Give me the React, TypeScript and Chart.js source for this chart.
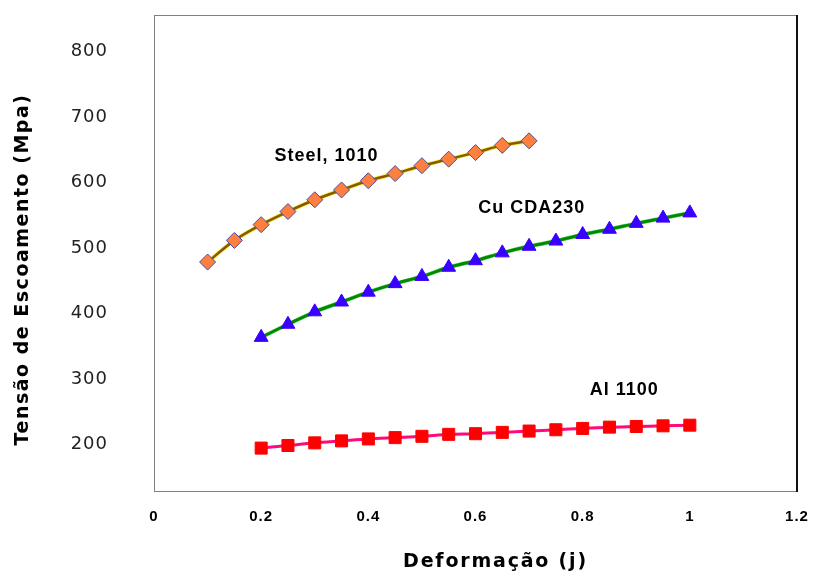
import React, { useEffect, useRef } from "react";
import { Chart, registerables } from "chart.js";

Chart.register(...registerables);

// ---- data ----
const STEEL_X = [0.1, 0.15, 0.2, 0.25, 0.3, 0.35, 0.4, 0.45, 0.5, 0.55, 0.6, 0.65, 0.7];
const STEEL_Y = [479, 512, 536, 556, 574, 589, 603, 614, 626, 636, 646, 657, 664];

const CU_X = [0.2, 0.25, 0.3, 0.35, 0.4, 0.45, 0.5, 0.55, 0.6, 0.65, 0.7, 0.75, 0.8, 0.85, 0.9, 0.95, 1.0];
const CU_Y = [364, 384, 403, 418, 433, 446, 457, 471, 481, 493, 503, 511, 521, 529, 538, 546, 554];

const AL_X = [0.2, 0.25, 0.3, 0.35, 0.4, 0.45, 0.5, 0.55, 0.6, 0.65, 0.7, 0.75, 0.8, 0.85, 0.9, 0.95, 1.0];
const AL_Y = [195, 199, 203, 206, 209, 211, 213, 216, 217, 219, 221, 223, 225, 227, 228, 229, 230];

const X_TICKS = [0, 0.2, 0.4, 0.6, 0.8, 1, 1.2];
const Y_TICKS = [200, 300, 400, 500, 600, 700, 800];

const SERIES_LABELS = ["Steel, 1010", "Cu CDA230", "Al 1100"];
const X_TITLE = "Deformação (j)";
const Y_TITLE = "Tensão de Escoamento (Mpa)";

// label anchor positions (data units) – layout only
const LABEL_ANCHORS = [
  { x: 0.225, y: 640 },
  { x: 0.605, y: 562 },
  { x: 0.813, y: 283 },
];

const pts = (xs: number[], ys: number[]) => xs.map((x, i) => ({ x, y: ys[i] }));

const decorPlugin = {
  id: "decor",
  beforeDraw(chart: any) {
    chart.ctx.letterSpacing = "1px";
  },
  beforeDatasetsDraw(chart: any) {
    const { ctx, chartArea } = chart;
    ctx.save();
    ctx.strokeStyle = "#808080";
    ctx.lineWidth = 1;
    ctx.strokeRect(
      chartArea.left + 0.5,
      chartArea.top + 0.5,
      chartArea.right - chartArea.left - 1,
      chartArea.bottom - chartArea.top - 1
    );
    ctx.strokeStyle = "#111";
    ctx.lineWidth = 2;
    ctx.beginPath();
    ctx.moveTo(chartArea.right, chartArea.top);
    ctx.lineTo(chartArea.right, chartArea.bottom);
    ctx.stroke();
    ctx.restore();
  },
  afterDraw(chart: any) {
    const { ctx, chartArea, scales } = chart;
    ctx.save();
    ctx.fillStyle = "#000";
    ctx.letterSpacing = "1px";
    ctx.font = 'bold 18px "Liberation Sans", Arial, sans-serif';
    ctx.textAlign = "left";
    ctx.textBaseline = "middle";
    SERIES_LABELS.forEach((t, i) => {
      const a = LABEL_ANCHORS[i];
      ctx.fillText(t, scales.x.getPixelForValue(a.x), scales.y.getPixelForValue(a.y));
    });

    ctx.letterSpacing = "1.8px";
    ctx.font = 'bold 19px "DejaVu Sans", Verdana, sans-serif';
    ctx.textAlign = "center";
    ctx.fillText(X_TITLE, (chartArea.left + chartArea.right) / 2 + 20, chartArea.bottom + 70);

    ctx.letterSpacing = "1.5px";
    ctx.translate(chartArea.left - 131, (chartArea.top + chartArea.bottom) / 2 + 16);
    ctx.rotate(-Math.PI / 2);
    ctx.fillText(Y_TITLE, 0, 0);
    ctx.restore();
  },
};

export default function App() {
  const ref = useRef<HTMLCanvasElement | null>(null);

  useEffect(() => {
    document.body.style.margin = "0";
    const canvas = ref.current;
    if (!canvas) return;
    const chart = new Chart(canvas, {
      type: "line",
      data: {
        datasets: [
          {
            label: SERIES_LABELS[0],
            data: pts(STEEL_X, STEEL_Y),
            borderColor: "#8a5800",
            borderWidth: 2.5,
            pointStyle: "rectRot",
            pointRadius: 8,
            pointBackgroundColor: "#ff7f3f",
            pointBorderColor: "#4b4b9b",
            pointBorderWidth: 1,
            tension: 0.3,
            order: 0,
          },
          {
            label: SERIES_LABELS[1],
            data: pts(CU_X, CU_Y),
            borderColor: "#008a00",
            borderWidth: 3,
            pointStyle: "triangle",
            pointRadius: 8,
            pointBackgroundColor: "#3a00ff",
            pointBorderColor: "#3a00ff",
            pointBorderWidth: 1,
            tension: 0.3,
            order: 0,
          },
          {
            label: SERIES_LABELS[2],
            data: pts(AL_X, AL_Y),
            borderColor: "#ff0a78",
            borderWidth: 3,
            pointStyle: "rect",
            pointRadius: 8.5,
            pointBackgroundColor: "#ff0000",
            pointBorderColor: "#ff0000",
            pointBorderWidth: 1,
            tension: 0.3,
            order: 0,
          },
          {
            label: "steel-halo",
            data: pts(STEEL_X, STEEL_Y),
            borderColor: "#f2ee3a",
            borderWidth: 4,
            pointRadius: 0,
            tension: 0.3,
            order: 1,
          },
          {
            label: "cu-halo",
            data: pts(CU_X, CU_Y),
            borderColor: "#80dd80",
            borderWidth: 4,
            pointRadius: 0,
            tension: 0.3,
            order: 1,
          },
        ],
      },
      options: {
        animation: false,
        responsive: true,
        maintainAspectRatio: false,
        layout: { padding: { top: 15, right: 17, bottom: 0, left: 0 } },
        plugins: { legend: { display: false }, tooltip: { enabled: false } },
        scales: {
          x: {
            type: "linear",
            min: 0,
            max: 1.2,
            grid: { display: false, drawTicks: false },
            border: { display: false },
            afterBuildTicks: (s: any) => {
              s.ticks = X_TICKS.map((v) => ({ value: v }));
            },
            afterFit: (s: any) => {
              s.height = 89;
              s.paddingLeft = 0;
              s.paddingRight = 0;
            },
            ticks: {
              padding: 16,
              color: "#000",
              font: { family: '"Liberation Sans", Arial, sans-serif', size: 15, weight: "bold" },
              callback: (v: any) => String(Math.round(Number(v) * 10) / 10),
            },
          },
          y: {
            type: "linear",
            min: 128,
            max: 856,
            grid: { display: false, drawTicks: false },
            border: { display: false },
            afterBuildTicks: (s: any) => {
              s.ticks = Y_TICKS.map((v) => ({ value: v }));
            },
            afterFit: (s: any) => {
              s.width = 154;
              s.paddingTop = 0;
              s.paddingBottom = 0;
            },
            ticks: {
              padding: 46,
              color: "#222",
              font: { family: '"DejaVu Sans", Verdana, sans-serif', size: 18 },
            },
          },
        },
      },
      plugins: [decorPlugin],
    });
    return () => chart.destroy();
  }, []);

  return (
    <div style={{ position: "absolute", left: 0, top: 0, width: 814, height: 581, background: "#fff" }}>
      <canvas ref={ref} />
    </div>
  );
}
